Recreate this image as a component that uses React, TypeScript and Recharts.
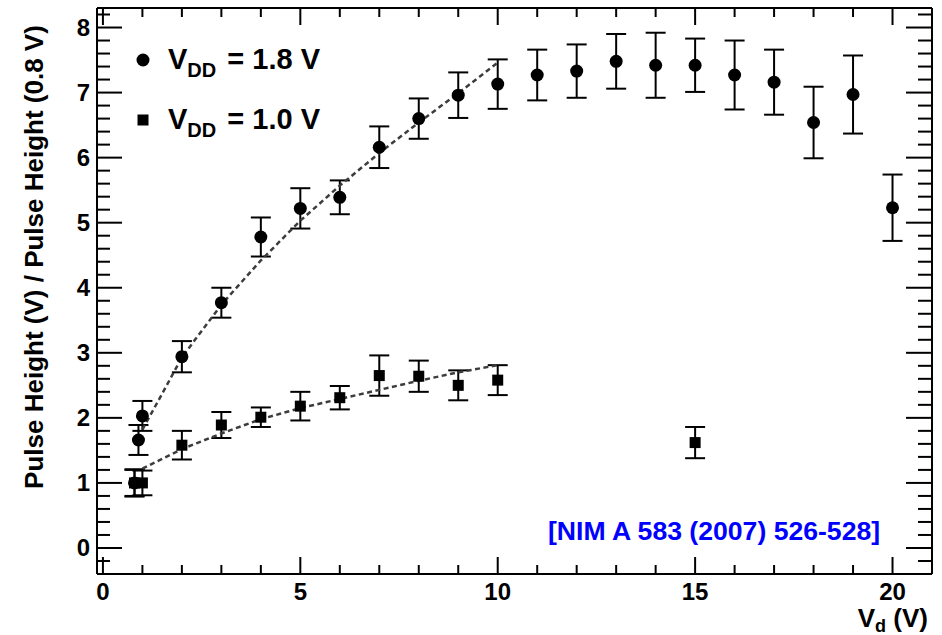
import React from 'react';
import { ScatterChart, Scatter, XAxis, YAxis, ErrorBar, Legend } from 'recharts';

const FONT = '"Liberation Sans", Arial, Helvetica, sans-serif';

// V_DD = 1.8 V (circles)
const vdd18X = [0.8, 0.9, 1, 2, 3, 4, 5, 6, 7, 8, 9, 10, 11, 12, 13, 14, 15, 16, 17, 18, 19, 20];
const vdd18Y = [1.0, 1.66, 2.03, 2.94, 3.77, 4.78, 5.22, 5.39, 6.16, 6.6, 6.96, 7.13, 7.27, 7.33, 7.48, 7.42, 7.42, 7.27, 7.16, 6.54, 6.97, 5.23];
const vdd18Err = [0.2, 0.23, 0.23, 0.24, 0.23, 0.3, 0.31, 0.26, 0.32, 0.31, 0.35, 0.38, 0.39, 0.41, 0.42, 0.5, 0.41, 0.53, 0.5, 0.55, 0.6, 0.51];

// V_DD = 1.0 V (squares)
const vdd10X = [0.8, 1, 2, 3, 4, 5, 6, 7, 8, 9, 10, 15];
const vdd10Y = [1.0, 1.0, 1.58, 1.89, 2.01, 2.18, 2.31, 2.65, 2.64, 2.5, 2.58, 1.62];
const vdd10Err = [0.21, 0.19, 0.22, 0.2, 0.15, 0.22, 0.18, 0.31, 0.24, 0.23, 0.23, 0.24];

// dashed fit curves
const fitX = [1, 1.5, 2, 3, 4, 5, 6, 7, 8, 9, 10];
const fit18Y = [1.82, 2.37, 2.93, 3.74, 4.42, 5.03, 5.57, 6.07, 6.54, 6.99, 7.46];
const fit10Y = [1.22, 1.37, 1.52, 1.76, 1.98, 2.15, 2.29, 2.43, 2.57, 2.7, 2.81];

const xTicks = [0, 1, 2, 3, 4, 5, 6, 7, 8, 9, 10, 11, 12, 13, 14, 15, 16, 17, 18, 19, 20];
const xLabels = [0, 5, 10, 15, 20];
const yTicks = Array.from({ length: 43 }, (_, i) => Math.round((-0.2 + i * 0.2) * 10) / 10);
const yLabels = [0, 1, 2, 3, 4, 5, 6, 7, 8];

const data18 = vdd18X.map((x, i) => ({ x, y: vdd18Y[i], err: vdd18Err[i] }));
const data10 = vdd10X.map((x, i) => ({ x, y: vdd10Y[i], err: vdd10Err[i] }));
const fit18 = fitX.map((x, i) => ({ x, y: fit18Y[i] }));
const fit10 = fitX.map((x, i) => ({ x, y: fit10Y[i] }));

const isMajorY = (v: number) => yLabels.includes(v);
const isMajorX = (v: number) => xLabels.includes(v);

const BottomTick = (props: any) => {
  const { x, y, payload } = props;
  const major = isMajorX(payload.value);
  return (
    <g>
      <line x1={x} x2={x} y1={y} y2={y - (major ? 17 : 9)} stroke="#000" strokeWidth={2} />
      {major && (
        <text x={x} y={y + 26} textAnchor="middle" fontSize={24} fontWeight="bold" fontFamily={FONT} fill="#000">
          {payload.value}
        </text>
      )}
    </g>
  );
};

const TopTick = (props: any) => {
  const { x, y, payload } = props;
  const major = isMajorX(payload.value);
  return <line x1={x} x2={x} y1={y} y2={y + (major ? 17 : 9)} stroke="#000" strokeWidth={2} />;
};

const LeftTick = (props: any) => {
  const { x, y, payload } = props;
  const major = isMajorY(payload.value);
  return (
    <g>
      <line x1={x} x2={x + (major ? 25 : 13)} y1={y} y2={y} stroke="#000" strokeWidth={2} />
      {major && (
        <text x={x - 7} y={y + 8} textAnchor="end" fontSize={24} fontWeight="bold" fontFamily={FONT} fill="#000">
          {payload.value}
        </text>
      )}
    </g>
  );
};

const RightTick = (props: any) => {
  const { x, y, payload } = props;
  const major = isMajorY(payload.value);
  return <line x1={x} x2={x - (major ? 26 : 14)} y1={y} y2={y} stroke="#000" strokeWidth={2} />;
};

const CircleMark = (props: any) => <circle cx={props.cx} cy={props.cy} r={6.5} fill="#000" />;
const SquareMark = (props: any) => (
  <rect x={props.cx - 5.5} y={props.cy - 5.5} width={11} height={11} fill="#000" />
);
const NoMark = () => <g />;

const Overlay = () => (
  <svg width={942} height={635} style={{ position: 'absolute', left: 0, top: 0 }}>
    <g fontFamily={FONT} fontWeight="bold" fill="#000">
      <circle cx={143} cy={60} r={6.5} fill="#000" />
      <text x={168} y={69} fontSize={29}>
        V<tspan fontSize={20} dy={8}>DD</tspan>
        <tspan dy={-8} dx={3}> = 1.8 V</tspan>
      </text>
      <rect x={137.5} y={114.5} width={11} height={11} fill="#000" />
      <text x={168} y={129} fontSize={29}>
        V<tspan fontSize={20} dy={8}>DD</tspan>
        <tspan dy={-8} dx={3}> = 1.0 V</tspan>
      </text>
      <text x={43} y={257} fontSize={26} textAnchor="middle" transform="rotate(-90 43 257)">
        Pulse Height (V) / Pulse Height (0.8 V)
      </text>
      <text x={928} y={627} fontSize={26} textAnchor="end">
        V<tspan fontSize={18} dy={5}>d</tspan>
        <tspan dy={-5}> (V)</tspan>
      </text>
      <text x={548} y={540} fontSize={26.6} fill="#0000ff">
        [NIM A 583 (2007) 526-528]
      </text>
    </g>
  </svg>
);

const fitLine = { stroke: '#3c3c3c', strokeWidth: 2.5, strokeDasharray: '5 3.5' };

export default function App() {
  return (
    <div style={{ position: 'absolute', left: 0, top: 0, width: 942, height: 635, background: '#fff' }}>
      <ScatterChart width={942} height={635} margin={{ top: 7, right: 9, bottom: 0, left: 0 }}>
        <XAxis
          type="number"
          dataKey="x"
          domain={[-0.15, 21]}
          allowDataOverflow
          ticks={xTicks}
          interval={0}
          height={61}
          tickSize={0}
          tickMargin={0}
          tickLine={false}
          axisLine={{ stroke: '#000', strokeWidth: 2 }}
          tick={BottomTick}
        />
        <XAxis
          xAxisId="top"
          orientation="top"
          type="number"
          dataKey="x"
          domain={[-0.15, 21]}
          allowDataOverflow
          ticks={xTicks}
          interval={0}
          height={1}
          tickSize={0}
          tickMargin={0}
          tickLine={false}
          axisLine={{ stroke: '#000', strokeWidth: 2 }}
          tick={TopTick}
        />
        <YAxis
          type="number"
          dataKey="y"
          domain={[-0.4, 8.3]}
          allowDataOverflow
          ticks={yTicks}
          interval={0}
          width={97}
          tickSize={0}
          tickMargin={0}
          tickLine={false}
          axisLine={{ stroke: '#000', strokeWidth: 2 }}
          tick={LeftTick}
        />
        <YAxis
          yAxisId="right"
          orientation="right"
          type="number"
          dataKey="y"
          domain={[-0.4, 8.3]}
          allowDataOverflow
          ticks={yTicks}
          interval={0}
          width={1}
          tickSize={0}
          tickMargin={0}
          tickLine={false}
          axisLine={{ stroke: '#000', strokeWidth: 2 }}
          tick={RightTick}
        />
        <Scatter
          data={fit18}
          xAxisId="top"
          yAxisId="right"
          line={fitLine}
          lineType="joint"
          shape={NoMark}
          isAnimationActive={false}
        />
        <Scatter data={fit10} line={fitLine} lineType="joint" shape={NoMark} isAnimationActive={false} />
        <Scatter data={data18} shape={CircleMark} isAnimationActive={false}>
          <ErrorBar dataKey="err" direction="y" width={10} stroke="#000" strokeWidth={2} />
        </Scatter>
        <Scatter data={data10} shape={SquareMark} isAnimationActive={false}>
          <ErrorBar dataKey="err" direction="y" width={10} stroke="#000" strokeWidth={2} />
        </Scatter>
        <Legend
          layout="vertical"
          align="center"
          verticalAlign="middle"
          wrapperStyle={{ left: 0, top: 0, width: 942, height: 635, pointerEvents: 'none' }}
          content={() => <Overlay />}
        />
      </ScatterChart>
    </div>
  );
}
